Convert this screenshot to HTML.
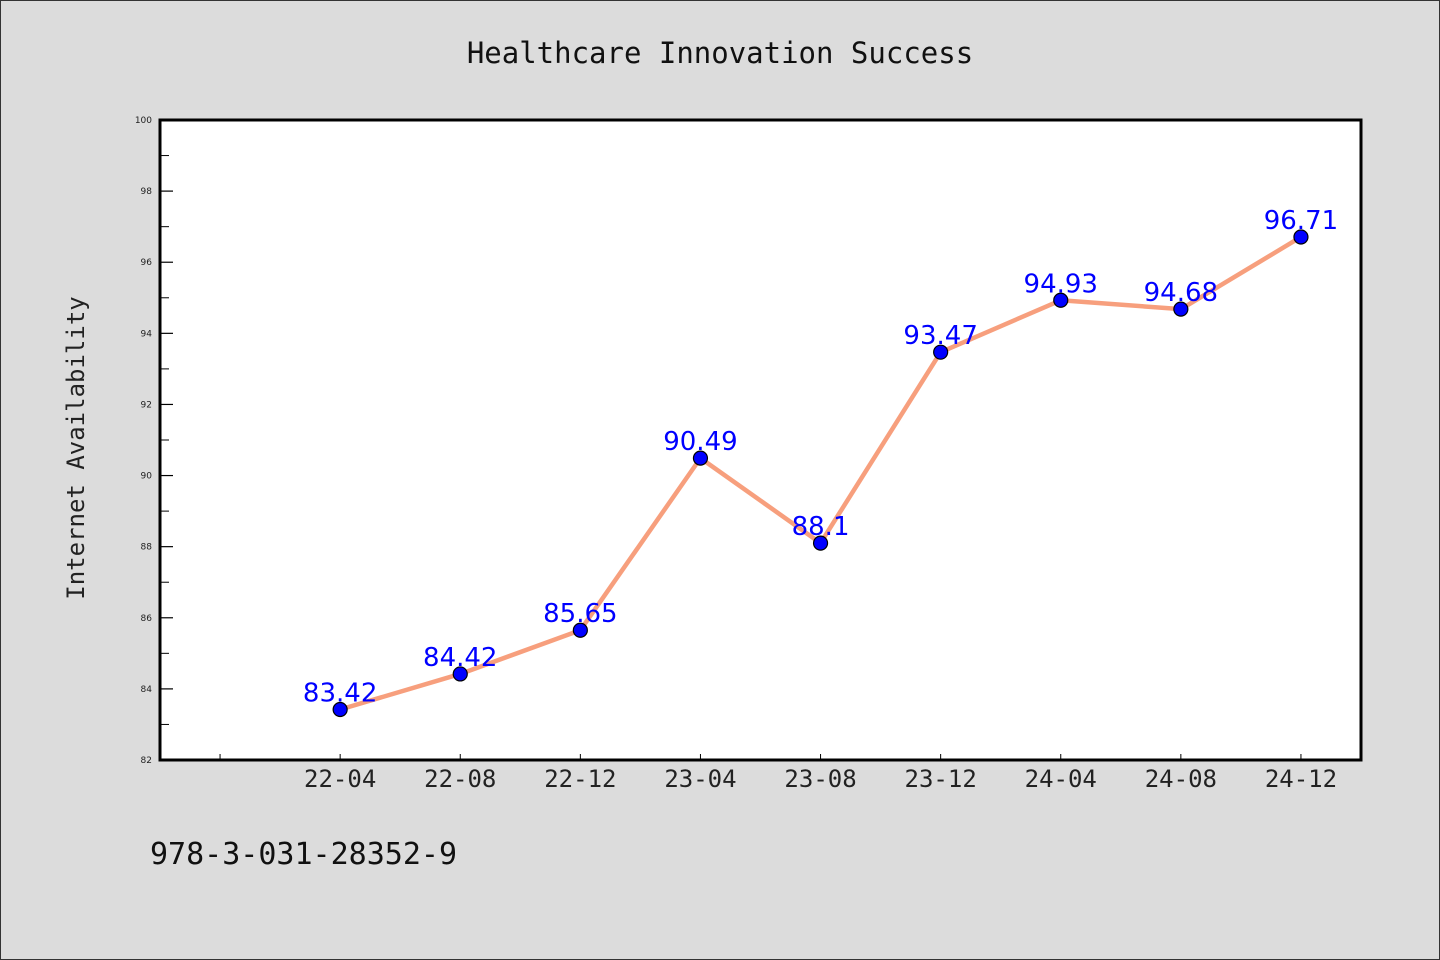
<!DOCTYPE html>
<html><head><meta charset="utf-8"><style>
body{margin:0;background:#dcdcdc;}
svg{display:block;font-family:"DejaVu Sans Mono","Liberation Mono",monospace;}
</style></head><body>
<svg width="1440" height="960">
<rect x="0.5" y="0.5" width="1439" height="959" fill="#dcdcdc" stroke="#333"/>
<text x="720" y="63" text-anchor="middle" font-size="29" fill="#111">Healthcare Innovation Success</text>
<rect x="160" y="120" width="1201" height="640" fill="#fff" stroke="#000" stroke-width="3"/>
<text transform="translate(84,448) rotate(-90)" text-anchor="middle" font-size="24" fill="#222">Internet Availability</text>
<text x="150" y="864" font-size="30" fill="#111">978-3-031-28352-9</text>
<g id="ticks"></g><g id="marks"></g>
</svg>
<script>
const categories=["22-04","22-08","22-12","23-04","23-08","23-12","24-04","24-08","24-12"];
const values=[83.42,84.42,85.65,90.49,88.1,93.47,94.93,94.68,96.71];
const labels=["83.42","84.42","85.65","90.49","88.1","93.47","94.93","94.68","96.71"];
const yTicks=[82,84,86,88,90,92,94,96,98,100];
const NS="http://www.w3.org/2000/svg";
const X0=160,X1=1361,Y0=760,Y1=120,ymin=82,ymax=100;
const xs=i=>X0+(i+1.5)/10*(X1-X0);
const ys=v=>Y0-(v-ymin)/(ymax-ymin)*(Y0-Y1);
function mk(t,a,p){const e=document.createElementNS(NS,t);for(const k in a)e.setAttribute(k,a[k]);p.appendChild(e);return e;}
const T=document.getElementById('ticks'),M=document.getElementById('marks');
yTicks.forEach(v=>{
 const l=mk('line',{x1:X0,x2:X0+13,y1:ys(v),y2:ys(v),stroke:'#000','stroke-width':1.2},T);
 
 
 const t=mk('text',{x:X0-8,y:ys(v)+3,'text-anchor':'end','font-size':9,fill:'#222','font-family':'DejaVu Sans,sans-serif'},T);
 t.textContent=v;
 
 
 if(v<ymax){const m=mk('line',{x1:X0,x2:X0+9,y1:ys(v+1),y2:ys(v+1),stroke:'#000','stroke-width':1},T);
 
 }
});
for(let i=-1;i<categories.length;i++){
 const l=mk('line',{x1:xs(i),x2:xs(i),y1:Y0,y2:Y0-6,stroke:'#000','stroke-width':1},T);
 
 
 if(i>=0){const t=mk('text',{x:xs(i),y:Y0+27,'text-anchor':'middle','font-size':24,fill:'#222'},T);
 t.textContent=categories[i];
 
 }
}
const pl=mk('polyline',{points:values.map((v,i)=>xs(i)+','+ys(v)).join(' '),fill:'none',stroke:'#f79f7d','stroke-width':4.5,'stroke-linejoin':'round'},M);


values.forEach((v,i)=>{
 const c=mk('circle',{cx:xs(i),cy:ys(v),r:7,fill:'#0000ff',stroke:'#000','stroke-width':1.2},M);
 
 
 const t=mk('text',{x:xs(i),y:ys(v)-8,'text-anchor':'middle','font-size':26,fill:'#0000ff','font-family':'DejaVu Sans,sans-serif'},M);
 t.textContent=labels[i];
 
 
});
</script>
</body></html>
